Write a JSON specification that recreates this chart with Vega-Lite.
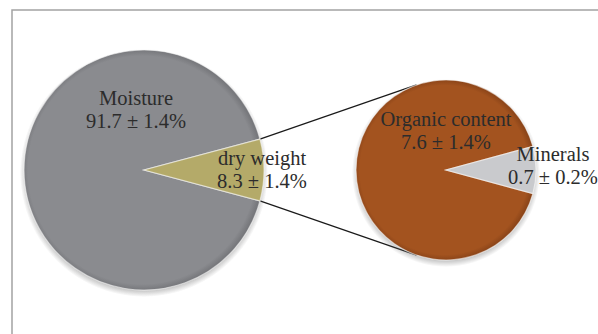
{
  "$schema": "https://vega.github.io/schema/vega-lite/v6.json",
  "width": 600,
  "height": 340,
  "autosize": "none",
  "padding": {"left": 12, "top": 10, "right": 0, "bottom": 0},
  "background": "white",
  "config": {
    "view": {"stroke": "#a3a3a3", "strokeWidth": 1.5},
    "text": {"font": "Liberation Serif", "fontSize": 20.5, "color": "#2c2c2c", "align": "center", "baseline": "alphabetic", "lineBreak": "\n", "lineHeight": 22.5}
  },
  "params": [
    {"name": "cx1", "value": 132},
    {"name": "cx2", "value": 434},
    {"name": "cy", "value": 160},
    {"name": "r1", "value": 120},
    {"name": "r2", "value": 90}
  ],
  "data": {
    "values": [
      {"pie": "main", "part": "Moisture", "value": 91.7, "err": 1.4},
      {"pie": "main", "part": "dry weight", "value": 8.3, "err": 1.4},
      {"pie": "detail", "part": "Organic content", "value": 7.6, "err": 1.4},
      {"pie": "detail", "part": "Minerals", "value": 0.7, "err": 0.2}
    ]
  },
  "transform": [
    {"calculate": "datum.part + '\\n' + format(datum.value, '.1f') + ' ± ' + format(datum.err, '.1f') + '%'", "as": "label"}
  ],
  "layer": [
    {
      "transform": [
        {"filter": "datum.part === 'dry weight'"},
        {"calculate": "[1, -1]", "as": "edge"},
        {"flatten": ["edge"]},
        {"calculate": "PI * datum.value / 100", "as": "half"},
        {"calculate": "cx1 + r1 * cos(datum.half)", "as": "px"},
        {"calculate": "cy - datum.edge * r1 * sin(datum.half)", "as": "py"},
        {"calculate": "sqrt(pow(cx2 - datum.px, 2) + pow(cy - datum.py, 2))", "as": "dist"},
        {"calculate": "atan2(cy - datum.py, cx2 - datum.px) - datum.edge * asin(r2 / datum.dist)", "as": "dir"},
        {"calculate": "sqrt(datum.dist * datum.dist - r2 * r2)", "as": "len"},
        {"calculate": "datum.px + datum.len * cos(datum.dir)", "as": "qx"},
        {"calculate": "datum.py + datum.len * sin(datum.dir)", "as": "qy"}
      ],
      "mark": {"type": "rule", "color": "#1a1a1a", "strokeWidth": 1.2},
      "encoding": {
        "x": {"field": "px", "type": "quantitative", "scale": null},
        "y": {"field": "py", "type": "quantitative", "scale": null},
        "x2": {"field": "qx"},
        "y2": {"field": "qy"}
      }
    },
    {
      "transform": [{"filter": "datum.pie === 'main'"}, {"aggregate": [{"op": "sum", "field": "value", "as": "total"}]}],
      "mark": {"type": "arc", "x": {"expr": "cx1"}, "y": {"expr": "cy + 3"}, "radius": {"expr": "r1 + 4"},
        "fill": {"gradient": "radial", "x1": 0.5, "y1": 0.5, "r1": 0, "x2": 0.5, "y2": 0.5, "r2": 0.5,
          "stops": [{"offset": 0, "color": "rgba(90,90,90,0.6)"}, {"offset": 0.93, "color": "rgba(90,90,90,0.45)"}, {"offset": 1, "color": "rgba(90,90,90,0)"}]}},
      "encoding": {"theta": {"field": "total", "type": "quantitative"}}
    },
    {
      "transform": [{"filter": "datum.pie === 'detail'"}, {"aggregate": [{"op": "sum", "field": "value", "as": "total"}]}],
      "mark": {"type": "arc", "x": {"expr": "cx2"}, "y": {"expr": "cy + 3"}, "radius": {"expr": "r2 + 4"},
        "fill": {"gradient": "radial", "x1": 0.5, "y1": 0.5, "r1": 0, "x2": 0.5, "y2": 0.5, "r2": 0.5,
          "stops": [{"offset": 0, "color": "rgba(90,90,90,0.6)"}, {"offset": 0.91, "color": "rgba(90,90,90,0.45)"}, {"offset": 1, "color": "rgba(90,90,90,0)"}]}},
      "encoding": {"theta": {"field": "total", "type": "quantitative"}}
    },
    {
      "transform": [{"filter": "datum.pie === 'main'"}],
      "mark": {"type": "arc", "x": {"expr": "cx1"}, "y": {"expr": "cy"}, "radius": {"expr": "r1"}, "stroke": "white", "strokeOpacity": 0.55, "strokeWidth": 1.2},
      "encoding": {
        "theta": {"field": "value", "type": "quantitative", "stack": true, "scale": {"range": [{"expr": "PI/2 - PI*8.3/100"}, {"expr": "PI/2 - PI*8.3/100 + 2*PI"}]}},
        "order": {"field": "value", "sort": "ascending"},
        "color": {
          "condition": {"test": "datum.part === 'Moisture'",
            "value": {"gradient": "radial", "x1": 0.5, "y1": 0.5, "r1": 0, "x2": 0.5, "y2": 0.5, "r2": 0.5,
              "stops": [{"offset": 0, "color": "#8a8b8f"}, {"offset": 0.95, "color": "#8a8b8f"}, {"offset": 1, "color": "#77787c"}]}},
          "field": "part", "type": "nominal", "legend": null,
          "scale": {"domain": ["Moisture", "dry weight", "Organic content", "Minerals"], "range": ["#8a8b8f", "#b4aa69", "#a3531f", "#c9cacd"]}}
      }
    },
    {
      "transform": [{"filter": "datum.pie === 'detail'"}],
      "mark": {"type": "arc", "x": {"expr": "cx2"}, "y": {"expr": "cy"}, "radius": {"expr": "r2"}, "stroke": "white", "strokeOpacity": 0.55, "strokeWidth": 1.2},
      "encoding": {
        "theta": {"field": "value", "type": "quantitative", "stack": true, "scale": {"range": [{"expr": "PI/2 - PI*0.7/8.3"}, {"expr": "PI/2 - PI*0.7/8.3 + 2*PI"}]}},
        "order": {"field": "value", "sort": "ascending"},
        "color": {
          "condition": {"test": "datum.part === 'Organic content'",
            "value": {"gradient": "radial", "x1": 0.5, "y1": 0.5, "r1": 0, "x2": 0.5, "y2": 0.5, "r2": 0.5,
              "stops": [{"offset": 0, "color": "#a3531f"}, {"offset": 0.94, "color": "#a3531f"}, {"offset": 1, "color": "#8c4519"}]}},
          "field": "part", "type": "nominal", "legend": null}
      }
    },
    {
      "transform": [{"filter": "datum.part === 'Moisture'"}],
      "mark": {"type": "text", "x": {"expr": "cx1"}, "y": {"expr": "cy"}, "dx": -8, "dy": -65},
      "encoding": {"text": {"field": "label"}}
    },
    {
      "transform": [{"filter": "datum.part === 'dry weight'"}],
      "mark": {"type": "text", "x": {"expr": "cx1"}, "y": {"expr": "cy"}, "dx": 118, "dy": -5},
      "encoding": {"text": {"field": "label"}}
    },
    {
      "transform": [{"filter": "datum.part === 'Organic content'"}],
      "mark": {"type": "text", "x": {"expr": "cx2"}, "y": {"expr": "cy"}, "dx": 0, "dy": -44},
      "encoding": {"text": {"field": "label"}}
    },
    {
      "transform": [{"filter": "datum.part === 'Minerals'"}],
      "mark": {"type": "text", "x": {"expr": "cx2"}, "y": {"expr": "cy"}, "dx": 107, "dy": -9},
      "encoding": {"text": {"field": "label"}}
    }
  ],
  "resolve": {"scale": {"theta": "independent"}}
}
